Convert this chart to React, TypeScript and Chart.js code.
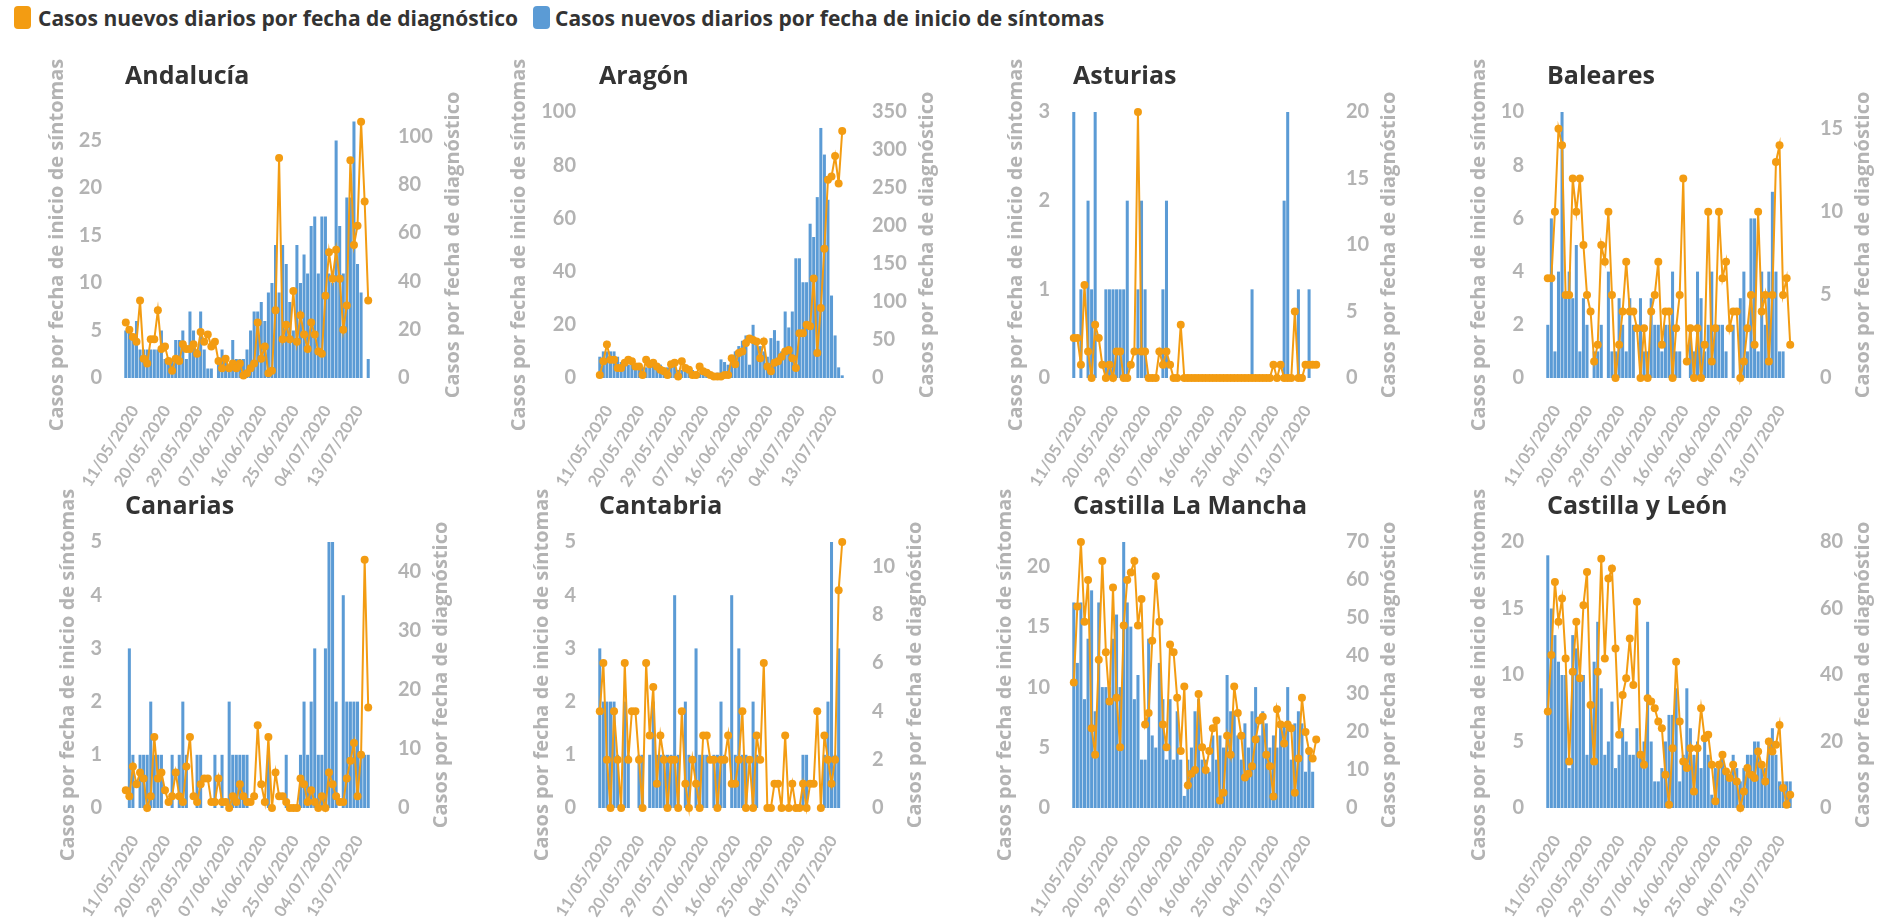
import React, { useEffect, useRef } from 'react';
import { Chart, registerables } from 'chart.js';

Chart.register(...registerables);

// ---------- categories ----------
const fechas: string[] = [
  '11/05/2020','12/05/2020','13/05/2020','14/05/2020','15/05/2020','16/05/2020','17/05/2020','18/05/2020','19/05/2020','20/05/2020',
  '21/05/2020','22/05/2020','23/05/2020','24/05/2020','25/05/2020','26/05/2020','27/05/2020','28/05/2020','29/05/2020','30/05/2020',
  '31/05/2020','01/06/2020','02/06/2020','03/06/2020','04/06/2020','05/06/2020','06/06/2020','07/06/2020','08/06/2020','09/06/2020',
  '10/06/2020','11/06/2020','12/06/2020','13/06/2020','14/06/2020','15/06/2020','16/06/2020','17/06/2020','18/06/2020','19/06/2020',
  '20/06/2020','21/06/2020','22/06/2020','23/06/2020','24/06/2020','25/06/2020','26/06/2020','27/06/2020','28/06/2020','29/06/2020',
  '30/06/2020','01/07/2020','02/07/2020','03/07/2020','04/07/2020','05/07/2020','06/07/2020','07/07/2020','08/07/2020','09/07/2020',
  '10/07/2020','11/07/2020','12/07/2020','13/07/2020','14/07/2020','15/07/2020','16/07/2020','17/07/2020','18/07/2020',
];

const regiones: string[] = ['Andalucía', 'Aragón', 'Asturias', 'Baleares', 'Canarias', 'Cantabria', 'Castilla La Mancha', 'Castilla y León'];

const leyendaDiagnostico = 'Casos nuevos diarios por fecha de diagnóstico';
const leyendaSintomas = 'Casos nuevos diarios por fecha de inicio de síntomas';
const tituloEjeIzq = 'Casos por fecha de inicio de síntomas';
const tituloEjeDer = 'Casos por fecha de diagnóstico';

// ---------- series: bars = fecha de inicio de síntomas, line = fecha de diagnóstico ----------
const sintomasAndalucia = [5,5,4,6,3,3,3,3,3,3, 5,2,2,2,4,4,5,2,7,5, 3,7,3,1,1,0,2,3,2,1, 4,2,2,2,3,5,7,7,8,6, 9,10,14,9,14,12,8,5,14,10, 13,11,16,17,11,17,17,11,10,25, 16,11,19,19,27,12,9,0,2];
const diagnosticoAndalucia = [23,20,17,15,32,8,6,16,16,28, 12,13,7,3,8,7,14,12,12,14, 10,19,15,18,13,15,7,4,8,4, 6,4,6,1,2,4,6,23,8,13, 2,3,28,91,16,22,16,36,15,26, 18,12,23,18,11,10,34,52,41,53, 41,20,30,90,55,63,106,73,32];

const sintomasAragon = [8,10,10,10,10,8,6,5,5, 5,5,5,4,4,6,6,5,5, 4,4,5,5,3,3,3,3,3, 2,2,2,1,1,1,2, 7,6,5,7,10,12,14,16,5,20, 14,12,10,8,15,18,14,10,25,19, 25,45,45,36,36,58,53,68,94,84, 67,31,16,4,1];
const diagnosticoAragon = [4,22,44,24,24,13,13,20,24,22, 15,15,4,24,18,20,15,11,9,4, 18,20,2,22,13,11,4,4,15,9, 7,4,2,2,2,4,4,26,18,33, 35,46,52,50,48,26,48,15,9,20, 22,28,35,37,26,13,59,59,70,68, 131,33,92,170,261,265,292,256,325];

const sintomasAsturias = [3,0,1,0,2,1,3,0,0,1, 1,1,1,1,1,2,0,0,1,2, 1,0,0,0,0,1,2,0,0,0, 0,0,0,0,0,0,0,0,0,0, 0,0,0,0,0,0,0,0,0,0, 1,0,0,0,0,0,0,0,0,2, 3,0,0,1,0,0,1,0,0];
const diagnosticoAsturias = [3,3,1,7,2,0,4,3,1,0, 1,0,2,2,0,0,1,2,20,2, 2,0,0,0,2,1,2,1,0,0, 4,0,0,0,0,0,0,0,0,0, 0,0,0,0,0,0,0,0,0,0, 0,0,0,0,0,0,1,0,1,0, 0,0,5,0,0,1,1,1,1];

const sintomasBaleares = [2,6,1,4,10,3,4,3,5,1, 3,2,0,1,1,2,0,4,1,1, 3,2,1,3,2,0,3,1,1,3, 2,2,1,2,2,4,1,1,0,0, 2,1,4,3,1,2,4,2,2,2, 1,0,2,0,3,4,1,6,6,1, 4,2,4,7,4,1,1,0,0];
const diagnosticoBaleares = [6,6,10,15,14,5,5,12,10,12, 8,5,4,1,2,8,7,10,5,0, 2,4,7,4,4,3,0,3,0, 4,5,7,2,4,4,0,3,5,12, 1,3,0,3,0,2,10,1,3,10, 6,7,3,4,4,0,1,3,5,2, 10,4,5,1,5,13,14,5,6,2];

const sintomasCanarias = [0,3,1,0,1,1,1,2,1,1, 1,0,0,1,0,1,2,1,0,0, 1,1,0,0,0,1,0,1,0,2, 1,1,1,1,1,0,0,0,0,0, 1,0,0,0,0,1,0,0,0,1, 2,1,2,3,1,1,3,5,5,2, 0,4,2,2,2,2,1,1,1];
const diagnosticoCanarias = [3,2,7,4,6,5,0,2,12,5, 6,3,1,2,6,2,1,7,12,2, 1,4,5,5,1,1,5,1,1,0, 2,1,4,2,1,1,2,14,4,1, 12,0,6,2,2,1,0,0,0,5, 4,1,3,1,0,2,0,6,4,2, 1,1,5,8,11,2,9,42,17];

const sintomasCantabria = [3,2,2,2,2,1,0,2,1,0, 0,1,1,0,1,2,1,1,1,1, 1,4,1,0,2,1,0,3,1,1, 1,0,1,1,2,1,0,4,1,3, 1,1,0,2,1,0,0,0,0,0, 0,0,0,0,0,0,0,1,1,0, 0,0,0,1,2,5,1,3,0];
const diagnosticoCantabria = [4,6,2,0,4,2,0,6,2,4, 4,2,0,6,3,5,1,3,2,0, 2,2,0,4,1,0,2,1,0,3, 3,2,2,0,2,2,3,1,1,2, 4,0,2,0,3,2,6,0,0,1, 1,0,3,0,1,0,0,1,0,1, 1,4,0,3,2,1,2,9,11];

const sintomasCLM = [17,12,17,9,14,18,8,17,10,10, 10,14,16,10,22,17,15,9,11,4, 4,14,6,5,12,9,4,9,4,8, 4,1,4,5,8,9,4,4,3,6, 4,6,5,11,8,8,6,4,7,5, 8,10,6,8,7,5,6,5,7,7, 10,4,7,8,7,3,5,3,0];
const diagnosticoCLM = [33,53,70,49,60,21,14,39,65,41, 28,58,29,16,48,60,62,65,48,55, 22,25,44,61,49,22,16,43,41,29, 15,32,6,9,10,30,16,10,15,21, 23,2,4,19,14,32,25,19,8,9, 11,18,23,24,14,11,3,26,22,17, 22,21,4,13,29,20,15,13,18];

const sintomasCyL = [19,15,13,11,10,10,3,13,12,10, 10,4,8,11,14,9,4,5,8,3, 4,6,5,4,4,6,4,5,14,5, 2,2,3,5,7,7,9,2,4,9, 6,4,5,3,5,4,1,3,3,4, 3,2,4,3,2,3,4,4,5,5, 3,3,5,6,4,2,2,2,2];
const diagnosticoCyL = [29,46,68,56,63,45,14,41,56,39, 61,71,31,14,41,75,45,69,72,48, 22,34,39,51,37,62,16,13,33,32, 30,26,24,10,1,18,44,26,14,12, 18,5,18,30,21,22,13,2,13,16, 11,9,13,8,0,5,12,10,9,17, 13,8,20,17,19,25,6,1,4];

const sintomas = [sintomasAndalucia, sintomasAragon, sintomasAsturias, sintomasBaleares, sintomasCanarias, sintomasCantabria, sintomasCLM, sintomasCyL];
const diagnostico = [diagnosticoAndalucia, diagnosticoAragon, diagnosticoAsturias, diagnosticoBaleares, diagnosticoCanarias, diagnosticoCantabria, diagnosticoCLM, diagnosticoCyL];

// axis ranges
const maxIzq = [28, 100, 3, 10, 5, 5, 22, 20];
const pasoIzq = [5, 20, 1, 2, 1, 1, 5, 5];
const maxDer = [110, 350, 20, 16, 45, 11, 70, 80];
const pasoDer = [20, 50, 5, 5, 10, 2, 10, 20];

// ---------- styles ----------
const NARANJA = '#F39C12';
const AZUL = '#5B9BD5';
const GRIS = '#B3B3B3';
const OSCURO = '#333333';
const PANEL_W = 466;
const PANEL_H = 446;
const ROW_STEP = 430;
const COL_STEP = 474;
const TOP0 = 45;

const panelText = {
  id: 'panelText',
  afterDraw(chart: any, _args: any, opts: any) {
    const { ctx, chartArea, scales } = chart;
    ctx.save();
    ctx.fillStyle = OSCURO;
    ctx.font = '700 25px "Open Sans"';
    ctx.textAlign = 'left';
    ctx.textBaseline = 'middle';
    ctx.fillText(opts.title, chartArea.left + 1, 32);

    ctx.font = 'bold 20px Lato';
    const wl = Math.max(...scales.yL.ticks.map((t: any) => ctx.measureText(String(t.label)).width));
    const wr = Math.max(...scales.yR.ticks.map((t: any) => ctx.measureText(String(t.label)).width));
    const xL = chartArea.left - 14 - wl - 30;
    const xR = chartArea.right + 20 + wr + 28;
    const cy = (chartArea.top + chartArea.bottom) / 2;
    ctx.font = '700 20px "Open Sans"';
    ctx.fillStyle = GRIS;
    ctx.textAlign = 'center';
    ctx.save();
    ctx.translate(xL, cy);
    ctx.rotate(-Math.PI / 2);
    ctx.fillText(tituloEjeIzq, 0, 0);
    ctx.restore();
    ctx.save();
    ctx.translate(xR, cy);
    ctx.rotate(-Math.PI / 2);
    ctx.fillText(tituloEjeDer, 0, 0);
    ctx.restore();
    ctx.restore();
  },
};

function Panel({ idx }: { idx: number }) {
  const ref = useRef<HTMLCanvasElement>(null);
  useEffect(() => {
    if (!ref.current) return;
    const chart = new Chart(ref.current, {
      type: 'bar',
      data: {
        labels: fechas,
        datasets: [
          {
            type: 'line',
            data: diagnostico[idx],
            yAxisID: 'yR',
            order: 1,
            borderColor: NARANJA,
            backgroundColor: NARANJA,
            borderWidth: 2,
            pointRadius: 4,
            pointBackgroundColor: NARANJA,
            pointBorderWidth: 0,
            tension: 0,
            clip: false,
          } as any,
          {
            type: 'bar',
            data: sintomas[idx],
            yAxisID: 'yL',
            order: 2,
            backgroundColor: AZUL,
            borderWidth: 0,
            barPercentage: 0.85,
            categoryPercentage: 1,
          } as any,
        ],
      },
      options: {
        responsive: false,
        animation: false,
        layout: { padding: { top: 67, left: 0, right: 0, bottom: 0 } },
        plugins: {
          legend: { display: false },
          tooltip: { enabled: false },
          panelText: { title: regiones[idx] },
        } as any,
        scales: {
          x: {
            type: 'category',
            offset: true,
            grid: { display: false },
            border: { display: false },
            ticks: {
              autoSkip: false,
              minRotation: 58,
              maxRotation: 58,
              padding: 16,
              labelOffset: 9,
              color: GRIS,
              font: { family: 'Lato', weight: 'bold', size: 16.5 },
              callback: (_v: any, i: number) => (i % 9 === 0 ? fechas[i] : ''),
            },
            afterFit: (s: any) => { s.height = 113; },
          },
          yL: {
            type: 'linear',
            position: 'left',
            min: 0,
            max: maxIzq[idx],
            grid: { display: false },
            border: { display: false },
            ticks: {
              stepSize: pasoIzq[idx],
              includeBounds: false,
              padding: 14,
              color: GRIS,
              font: { family: 'Lato', weight: 'bold', size: 20 },
            },
            afterFit: (s: any) => { s.width = 124; },
          },
          yR: {
            type: 'linear',
            position: 'right',
            min: 0,
            max: maxDer[idx],
            grid: { display: false },
            border: { display: false },
            ticks: {
              stepSize: pasoDer[idx],
              includeBounds: false,
              padding: 20,
              color: GRIS,
              font: { family: 'Lato', weight: 'bold', size: 20 },
            },
            afterFit: (s: any) => { s.width = 96; },
          },
        } as any,
      },
      plugins: [panelText as any],
    });
    return () => chart.destroy();
  }, [idx]);

  const col = idx % 4;
  const row = Math.floor(idx / 4);
  return (
    <div style={{ position: 'absolute', left: col * COL_STEP, top: TOP0 + row * ROW_STEP, width: PANEL_W, height: PANEL_H }}>
      <canvas ref={ref} width={PANEL_W} height={PANEL_H} style={{ width: PANEL_W, height: PANEL_H, display: 'block' }} />
    </div>
  );
}

function Swatch({ color }: { color: string }) {
  return <span style={{ display: 'inline-block', width: 17, height: 23, borderRadius: 4, background: color }} />;
}

export default function App() {
  return (
    <div style={{ position: 'absolute', left: 0, top: 0, width: 1888, height: 921, overflow: 'hidden', background: '#fff' }}>
      <div
        style={{
          position: 'absolute', left: 14, top: 6, display: 'flex', alignItems: 'center',
          font: '700 21px "Open Sans"', color: OSCURO, whiteSpace: 'nowrap', height: 23,
        }}
      >
        <Swatch color={NARANJA} />
        <span style={{ marginLeft: 7 }}>{leyendaDiagnostico}</span>
        <span style={{ marginLeft: 15, display: 'inline-flex' }}><Swatch color={AZUL} /></span>
        <span style={{ marginLeft: 5 }}>{leyendaSintomas}</span>
      </div>
      {regiones.map((_, i) => (
        <Panel key={i} idx={i} />
      ))}
    </div>
  );
}
